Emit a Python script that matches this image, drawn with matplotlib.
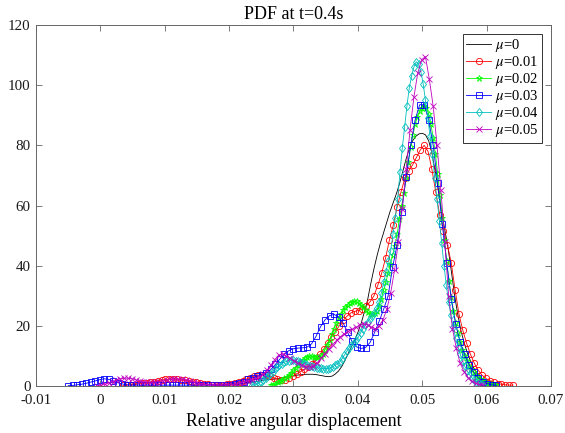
import numpy as np
import matplotlib
matplotlib.use("Agg")
import matplotlib.pyplot as plt

plt.rcParams['font.family'] = ['Liberation Serif', 'DejaVu Serif']
plt.rcParams['mathtext.fontset'] = 'stix'

# KDE curves, one per friction coefficient
x_mu0 = np.linspace(0.018, 0.062, 89)
y_mu0 = [0.1, 0.1, 0.2, 0.2, 0.3, 0.4, 0.5, 0.6, 0.7, 0.8,
         1.0, 1.2, 1.4, 1.6, 1.8, 2.0, 2.1, 2.2, 2.3, 2.4,
         2.6, 2.8, 3.0, 3.2, 3.4, 3.6, 3.7, 3.8, 3.9, 3.9,
         3.9, 3.8, 3.6, 3.4, 3.2, 3.1, 3.3, 4.0, 5.0, 6.5,
         8.5, 10.8, 13.0, 15.3, 17.8, 20.8, 24.5, 28.5, 34.0, 39.0,
         43.5, 47.5, 51.0, 54.5, 58.0, 61.0, 64.0, 67.5, 71.5, 75.5,
         79.0, 81.5, 83.0, 83.8, 84.0, 83.5, 81.5, 77.5, 71.5, 65.0,
         58.0, 52.0, 46.0, 38.5, 30.5, 24.0, 18.5, 14.5, 11.0, 8.3,
         6.0, 4.3, 3.0, 2.0, 1.4, 1.0, 0.6, 0.4, 0.3]

x_mu1 = np.linspace(0.0035, 0.0641, 102)
y_mu1 = [0.2, 0.3, 0.4, 0.5, 0.7, 0.9, 1.1, 1.3, 1.5, 1.8,
         2.0, 2.2, 2.3, 2.3, 2.3, 2.1, 1.9, 1.7, 1.4, 1.2,
         1.0, 0.8, 0.6, 0.5, 0.5, 0.5, 0.5, 0.6, 0.8, 1.0,
         1.3, 1.8, 2.3, 2.8, 3.3, 3.6, 3.8, 3.7, 3.3, 2.7,
         2.2, 2.0, 2.1, 2.6, 3.4, 4.1, 4.8, 5.6, 6.4, 7.3,
         8.6, 10.5, 12.3, 14.3, 16.2, 18.0, 20.0, 21.8, 23.2, 24.3,
         24.8, 25.1, 25.6, 26.6, 28.0, 30.0, 33.5, 37.5, 42.5, 48.5,
         53.5, 59.5, 64.5, 69.0, 71.5, 73.5, 76.0, 78.5, 80.0, 78.0,
         72.0, 64.5, 57.0, 51.5, 47.0, 41.0, 32.0, 24.0, 18.5, 14.2,
         10.5, 7.5, 5.2, 3.6, 2.5, 1.8, 1.2, 0.8, 0.6, 0.4,
         0.3, 0.3]

x_mu2 = np.linspace(0.0265, 0.0615, 101)
y_mu2 = [0.3, 0.5, 0.8, 1.2, 1.6, 2.1, 2.6, 3.1, 3.7, 4.4,
         5.3, 6.1, 7.0, 7.9, 8.6, 9.2, 9.7, 10.0, 10.0, 9.8,
         9.6, 9.6, 10.0, 10.8, 12.0, 13.5, 15.3, 17.2, 19.1, 20.9,
         22.6, 24.0, 25.2, 26.2, 27.0, 27.6, 28.0, 28.2, 28.1, 27.7,
         27.0, 26.1, 25.2, 24.5, 24.1, 24.0, 24.3, 25.1, 26.6, 28.8,
         31.8, 34.5, 37.5, 40.5, 43.5, 46.5, 50.5, 55.5, 60.0, 64.0,
         69.0, 74.5, 79.5, 83.5, 87.0, 89.5, 91.3, 92.5, 93.0, 92.5,
         90.5, 87.0, 82.5, 77.0, 70.5, 63.5, 56.0, 48.5, 41.5, 35.0,
         29.5, 25.0, 21.0, 17.5, 14.5, 12.0, 10.0, 8.3, 6.8, 5.6,
         4.5, 3.7, 3.0, 2.4, 1.9, 1.5, 1.1, 0.8, 0.6, 0.4,
         0.3]

x_mu3 = np.linspace(-0.005, 0.0615, 96)
y_mu3 = [0.1, 0.2, 0.4, 0.6, 0.9, 1.3, 1.7, 2.1, 2.4, 2.2,
         1.7, 1.1, 0.7, 0.4, 0.3, 0.3, 0.3, 0.3, 0.3, 0.3,
         0.3, 0.3, 0.3, 0.3, 0.3, 0.3, 0.3, 0.3, 0.3, 0.3,
         0.3, 0.3, 0.3, 0.3, 0.3, 0.4, 0.5, 0.7, 1.0, 1.5,
         2.2, 2.8, 3.3, 3.8, 4.3, 5.5, 7.2, 9.0, 10.6, 11.8,
         12.4, 12.6, 12.7, 12.9, 14.0, 16.5, 19.7, 22.0, 23.4, 23.8,
         23.0, 21.0, 17.8, 14.8, 13.0, 12.5, 12.8, 14.5, 17.8, 21.5,
         25.5, 30.0, 39.5, 47.0, 58.0, 69.5, 80.0, 88.5, 93.5, 93.5,
         88.5, 80.0, 67.5, 54.0, 41.0, 29.0, 20.5, 14.5, 10.5, 7.0,
         4.7, 2.8, 1.5, 0.8, 0.4, 0.2]

x_mu4 = np.linspace(0.0235, 0.0595, 101)
y_mu4 = [0.2, 0.4, 0.7, 1.0, 1.4, 1.9, 2.5, 3.2, 3.9, 4.7,
         5.5, 6.2, 6.9, 7.4, 7.9, 8.2, 8.4, 8.5, 8.5, 8.4,
         8.2, 8.0, 7.7, 7.4, 7.1, 6.8, 6.5, 6.3, 6.1, 6.0,
         5.9, 5.8, 5.8, 5.8, 6.0, 6.4, 7.0, 7.4, 8.0, 9.0,
         10.3, 11.5, 12.6, 13.5, 14.3, 15.2, 16.3, 17.6, 19.0, 20.2,
         21.3, 22.3, 23.3, 24.4, 25.8, 28.0, 31.0, 34.5, 38.0, 41.5,
         45.0, 50.5, 56.0, 62.0, 71.0, 79.0, 86.0, 93.0, 99.0, 103.0,
         106.0, 107.8, 107.0, 104.5, 100.5, 95.0, 89.0, 83.0, 77.0, 69.0,
         62.0, 55.0, 47.5, 40.0, 33.5, 28.0, 23.5, 19.5, 16.0, 13.0,
         10.5, 8.3, 6.5, 5.0, 3.8, 2.8, 2.0, 1.4, 0.9, 0.6,
         0.3]

x_mu5 = np.linspace(-0.0005, 0.0595, 101)
y_mu5 = [0.1, 0.3, 0.6, 1.0, 1.5, 2.0, 2.4, 2.6, 2.6, 2.4,
         2.1, 1.7, 1.4, 1.2, 1.2, 1.3, 1.5, 1.7, 2.0, 2.2,
         2.3, 2.3, 2.2, 2.0, 1.7, 1.3, 1.0, 0.7, 0.5, 0.4,
         0.3, 0.3, 0.3, 0.3, 0.4, 0.5, 0.7, 1.0, 1.4, 1.7,
         2.1, 2.5, 3.1, 4.0, 5.3, 7.0, 8.8, 10.3, 10.6, 10.0,
         9.2, 8.4, 7.6, 6.9, 6.4, 6.3, 6.7, 7.7, 9.2, 10.8,
         12.3, 13.8, 15.2, 16.4, 17.4, 18.2, 18.8, 19.5, 20.2, 20.6,
         20.4, 19.6, 19.0, 19.8, 22.0, 25.5, 31.0, 38.5, 48.0, 59.0,
         72.0, 85.0, 96.0, 104.0, 108.5, 109.5, 102.0, 93.0, 80.0, 65.0,
         48.0, 30.0, 19.0, 12.5, 7.5, 4.8, 2.8, 1.6, 0.9, 0.5,
         0.3]

fig = plt.figure(figsize=(5.65, 4.33), dpi=100)
ax = fig.add_axes([0.0637, 0.1085, 0.9115, 0.8338])

ms = 4.5
ax.plot(x_mu0, y_mu0, color='k', lw=0.6, label=r'$\mu$=0')
ax.plot(x_mu1, y_mu1, color='r', lw=0.6, marker='o', ms=ms, mfc='none', mew=0.6, label=r'$\mu$=0.01')
ax.plot(x_mu2, y_mu2, color='#00ff00', lw=0.6, marker='*', ms=ms, mfc='none', mew=0.6, label=r'$\mu$=0.02')
ax.plot(x_mu3, y_mu3, color='b', lw=0.6, marker='s', ms=ms, mfc='none', mew=0.6, label=r'$\mu$=0.03')
ax.plot(x_mu4, y_mu4, color='c', lw=0.6, marker='d', ms=ms, mfc='none', mew=0.6, label=r'$\mu$=0.04')
ax.plot(x_mu5, y_mu5, color='m', lw=0.6, marker='x', ms=ms, mfc='none', mew=0.6, label=r'$\mu$=0.05')

ax.set_xlim(-0.01, 0.07)
ax.set_ylim(0, 120)
ax.set_xticks([-0.01, 0, 0.01, 0.02, 0.03, 0.04, 0.05, 0.06, 0.07])
ax.set_xticklabels(['-0.01', '0', '0.01', '0.02', '0.03', '0.04', '0.05', '0.06', '0.07'])
ax.set_yticks([0, 20, 40, 60, 80, 100, 120])

ax.tick_params(direction='in', top=True, right=True, length=4, width=0.6,
               color='0.4', labelsize=10.8, labelcolor='0.1')
ax.tick_params(axis='x', pad=6)
ax.tick_params(axis='y', pad=4)
for s in ax.spines.values():
    s.set_color('0.4')
    s.set_linewidth(0.7)

ax.set_title('PDF at t=0.4s', fontsize=13, pad=4)
ax.set_xlabel('Relative angular displacement', fontsize=12.8, labelpad=4)

leg = ax.legend(loc='upper right', fontsize=10.5, fancybox=False, framealpha=1,
                edgecolor='0.2', handlelength=1.7, handletextpad=0.25,
                labelspacing=0.0, borderpad=0.25, borderaxespad=0.6)
leg.get_frame().set_linewidth(0.7)

fig.savefig('out.png', dpi=100)
